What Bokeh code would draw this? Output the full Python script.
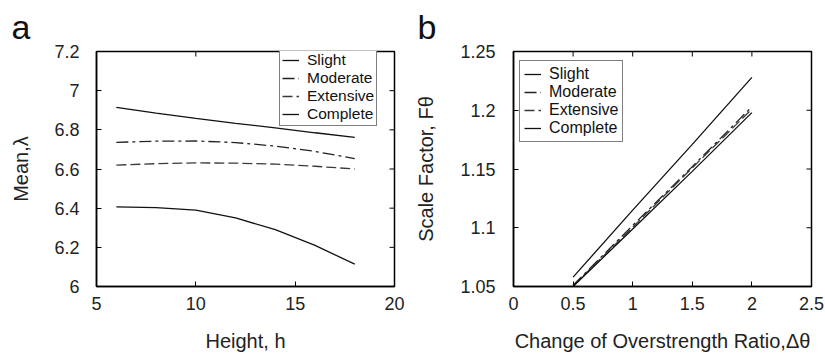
import math

from bokeh.embed import file_html
from bokeh.layouts import row
from bokeh.models import FixedTicker, Legend, LegendItem, Range1d
from bokeh.plotting import figure
from bokeh.resources import INLINE

# ---- data: (a) mean of the fragility parameter vs. building height ----
height_h = [6, 8, 10, 12, 14, 16, 18]
mean_slight = [6.915, 6.885, 6.858, 6.833, 6.810, 6.785, 6.762]
mean_moderate = [6.736, 6.742, 6.743, 6.735, 6.717, 6.690, 6.653]
mean_extensive = [6.620, 6.627, 6.631, 6.630, 6.625, 6.614, 6.600]
mean_complete = [6.407, 6.403, 6.390, 6.350, 6.290, 6.210, 6.114]

a_xticks = [5, 10, 15, 20]
a_xlabels = ["5", "10", "15", "20"]
a_yticks = [6.0, 6.2, 6.4, 6.6, 6.8, 7.0, 7.2]
a_ylabels = ["6", "6.2", "6.4", "6.6", "6.8", "7", "7.2"]

# ---- data: (b) scale factor vs. change of overstrength ratio ----
delta_theta = [0.5, 1.0, 1.5, 2.0]
f_slight = [1.058, 1.115, 1.171, 1.228]
f_moderate = [1.051, 1.102, 1.152, 1.203]
f_extensive = [1.0505, 1.1005, 1.151, 1.201]
f_complete = [1.050, 1.099, 1.148, 1.198]

b_xticks = [0.0, 0.5, 1.0, 1.5, 2.0, 2.5]
b_xlabels = ["0", "0.5", "1", "1.5", "2", "2.5"]
b_yticks = [1.05, 1.10, 1.15, 1.20, 1.25]
b_ylabels = ["1.05", "1.1", "1.15", "1.2", "1.25"]

series_names = ["Slight", "Moderate", "Extensive", "Complete"]
series_dash = ["solid", "12 4 3 4", "10 4", "solid"]
series_color = ["#111111", "#222222", "#3a3a3a", "#111111"]

FONT = "Liberation Sans"


def make_panel(letter, letter_offset, xr, yr, xt, xl, yt, yl, xlabel, ylabel,
               border_left, border_right, ylabel_standoff, ytick_standoff):
    p = figure(
        frame_width=298, frame_height=235,
        x_range=Range1d(*xr), y_range=Range1d(*yr),
        output_backend="svg", toolbar_location=None,
        min_border_left=border_left, min_border_right=border_right,
        min_border_top=51, min_border_bottom=71,
        background_fill_color="white", border_fill_color="white",
        outline_line_color="black", outline_line_width=1.5,
        title=letter,
    )
    # panel letter sits above the box, pulled left to the figure edge
    p.title.align = "left"
    p.title.offset = letter_offset
    p.title.standoff = 11
    p.title.text_font = FONT
    p.title.text_font_size = "34px"
    p.title.text_font_style = "normal"
    p.title.text_color = "#111111"

    p.grid.visible = False
    for ax, ticks, labels in ((p.xaxis[0], xt, xl), (p.yaxis[0], yt, yl)):
        ax.ticker = FixedTicker(ticks=ticks)
        ax.major_label_overrides = dict(zip(ticks, labels))
        ax.major_tick_in = 5
        ax.major_tick_out = 0
        ax.minor_tick_line_color = None
        ax.axis_line_color = "black"
        ax.axis_line_width = 1.5
        ax.major_label_text_font = FONT
        ax.major_label_text_font_size = "18px"
        ax.major_label_text_color = "#222222"
        ax.axis_label_text_font = FONT
        ax.axis_label_text_font_size = "20px"
        ax.axis_label_text_font_style = "normal"
        ax.axis_label_text_color = "#222222"
    p.xaxis[0].axis_label = xlabel
    p.xaxis[0].major_label_standoff = 10
    p.xaxis[0].axis_label_standoff = 17
    p.yaxis[0].axis_label = ylabel
    p.yaxis[0].major_label_standoff = ytick_standoff
    p.yaxis[0].axis_label_standoff = ylabel_standoff

    # mirrored inward ticks on the top and right edges of the box
    p.ray(x=xt, y=[yr[1]] * len(xt), length=5, length_units="screen",
          angle=-math.pi / 2, line_color="black", line_width=1)
    p.ray(x=[xr[1]] * len(yt), y=yt, length=5, length_units="screen",
          angle=math.pi, line_color="black", line_width=1)
    return p


def add_series(p, x, ys, loc, font_size, padding, line_height):
    items = []
    for name, y, dash, color in zip(series_names, ys, series_dash, series_color):
        r = p.line(x, y, line_color=color, line_width=1.3, line_dash=dash)
        items.append(LegendItem(label=name, renderers=[r]))
    leg = Legend(
        items=items, location=loc,
        border_line_color="black", border_line_width=1.2,
        background_fill_color="white", background_fill_alpha=1.0,
        padding=padding, spacing=0, margin=0,
        glyph_width=17, glyph_height=14, label_height=14, label_standoff=8,
        label_text_font=FONT, label_text_font_size=font_size,
        label_text_line_height=line_height,
        label_text_color="#111111",
    )
    p.add_layout(leg, "center")


pa = make_panel("a", -85, (5, 20), (6, 7.2), a_xticks, a_xlabels, a_yticks, a_ylabels,
                "Height, h", "Mean,\u03bb", 96, 18, 19, 17)
add_series(pa, height_h, [mean_slight, mean_moderate, mean_extensive, mean_complete],
           (183, 160), "15.5px", 2, 1.0)

pb = make_panel("b", -96, (0, 2.5), (1.05, 1.25), b_xticks, b_xlabels, b_yticks, b_ylabels,
                "Change of Overstrength Ratio,\u0394\u03b8", "Scale Factor, F\u03b8",
                101, 14, 20, 18)
add_series(pb, delta_theta, [f_slight, f_moderate, f_extensive, f_complete],
           (6, 144), "16px", 4, 1.2)

layout = row(pa, pb, spacing=0)
open("out.html", "w").write(file_html(layout, INLINE))
